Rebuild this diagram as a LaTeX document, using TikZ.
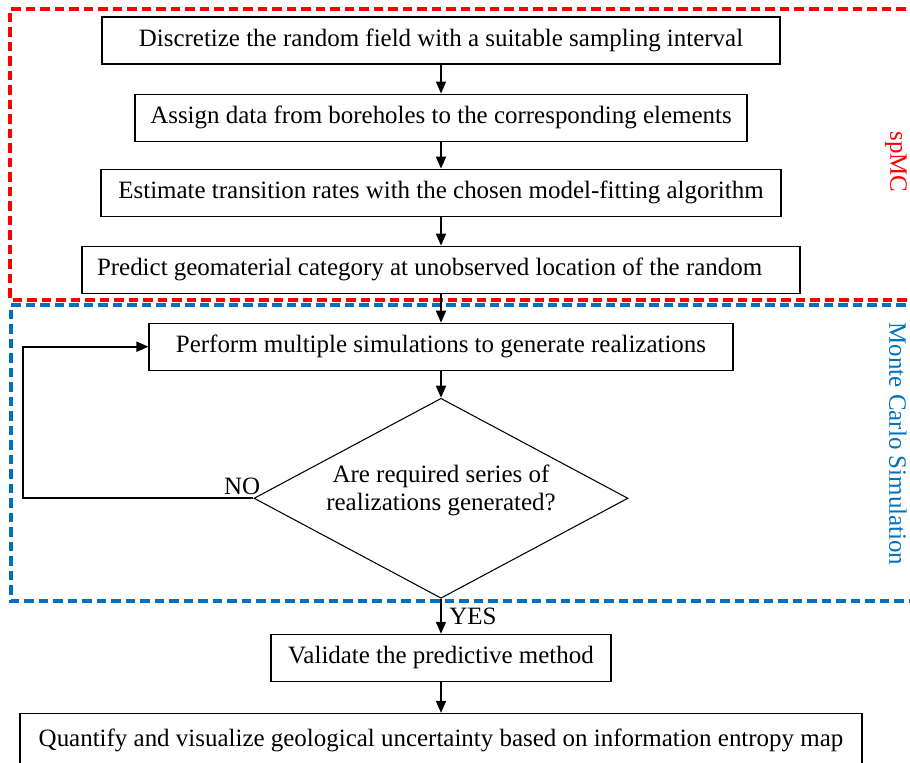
\documentclass[tikz,border=0pt]{standalone}
\usepackage{fontspec}
\setmainfont{Liberation Serif}
\usepackage{xcolor}
\definecolor{frred}{RGB}{255, 0, 0}
\definecolor{frblue}{RGB}{0, 112, 192}
\usetikzlibrary{shapes.geometric, arrows.meta, positioning}
\tikzset{
  stepbox/.style={draw=black, line width=0.6pt, rectangle,
    minimum height=0.94cm, inner sep=0pt, font=\fontsize{14.2}{17}\selectfont},
  decision/.style={draw=black, line width=0.6pt, diamond, aspect=1.87,
    minimum width=7.48cm, minimum height=4cm, inner sep=0pt},
  flowarrow/.style={-{Triangle[length=0.24cm, width=0.2cm]}, line width=1pt, color=black},
  framebox/.style={line width=2.2pt, dash pattern=on 0.19cm off 0.1cm},
  sidelabel/.style={rotate=-90, font=\fontsize{14.2}{17}\selectfont},
  flowlabel/.style={inner sep=0pt, font=\fontsize{14.2}{15.6}\selectfont}
}

\begin{document}
\begin{tikzpicture}[node distance=0.58cm]
  \useasboundingbox (0,0) rectangle (18.2,-15.26);

  % frames
  \draw[framebox, frred] (18.4,-0.18) -| (0.2,-6.0) -- (18.4,-6.0);
  \draw[framebox, frblue] (18.4,-6.1) -| (0.22,-12.02) -- (18.4,-12.02);
  \node[sidelabel, frred] (spmc) at (17.92,-3.24) {spMC};
  \node[sidelabel, frblue] (mcs) at (17.96,-8.88) {Monte Carlo Simulation};

  \node[stepbox, minimum width=13.56cm] (discretize) at (8.82,-0.81)
    {Discretize the random field with a suitable sampling interval};
  \node[stepbox, minimum width=12.24cm, below=of discretize] (assign)
    {Assign data from boreholes to the corresponding elements};
  \node[stepbox, minimum width=13.6cm, below=0.54cm of assign] (estimate)
    {Estimate transition rates with the chosen model-fitting algorithm};
  \node[stepbox, minimum width=14.36cm, below=0.58cm of estimate] (predict)
    {\makebox[13.76cm][l]{Predict geomaterial category at unobserved location of the random}};
  \node[stepbox, minimum width=11.68cm, below=0.58cm of predict] (perform)
    {Perform multiple simulations to generate realizations};
  \node[decision, below=0.54cm of perform] (check) {};
  \node[flowlabel, align=center, yshift=0.16cm] (checktext) at (check)
    {Are required series of\\realizations generated?};
  \node[stepbox, minimum width=6.8cm, below=0.7cm of check] (validate)
    {Validate the predictive method};
  \node[stepbox, minimum width=16.84cm, minimum height=1.1cm,
    below=0.62cm of validate] (quantify)
    {\raisebox{0.08cm}{Quantify and visualize geological uncertainty based on information entropy map}};

  \coordinate (loop) at (0.46,0);

  \draw[flowarrow] (discretize) -- (assign);
  \draw[flowarrow] (assign) -- (estimate);
  \draw[flowarrow] (estimate) -- (predict);
  \draw[flowarrow] (predict) -- (perform);
  \draw[flowarrow] (perform) -- (check);
  \draw[flowarrow] (check) -- (validate);
  \draw[flowarrow] (validate) -- (quantify);
  \draw[flowarrow] (check.west) -- (check.west -| loop) |- (perform.west);

  \node[flowlabel, anchor=base east] (nolabel)
    at ([xshift=0.14cm, yshift=0.08cm]check.west) {NO};
  \node[flowlabel, anchor=base west] (yeslabel)
    at ([xshift=0.16cm, yshift=-0.52cm]check.south) {YES};
\end{tikzpicture}
\end{document}
